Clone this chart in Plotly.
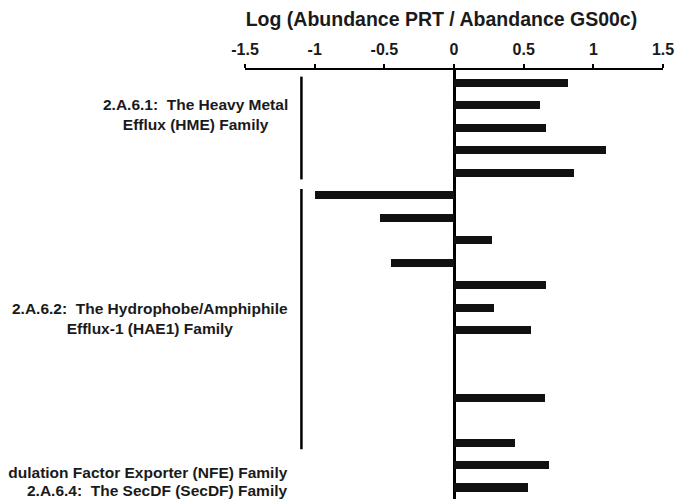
import plotly.graph_objects as go

# ---- data ----
rows = list(range(1, 20))
values = [0.82, 0.62, 0.66, 1.09, 0.86,
          -1.00, -0.53, 0.27, -0.45, 0.66, 0.29, 0.55, None, None, 0.65, None, 0.44,
          0.68, 0.53]

group_labels = [
    "2.A.6.1:  The Heavy Metal<br>Efflux (HME) Family",
    "2.A.6.2:  The Hydrophobe/Amphiphile<br>Efflux-1 (HAE1) Family",
    "2.A.6.3:  The Nodulation Factor Exporter (NFE) Family",
    "2.A.6.4:  The SecDF (SecDF) Family",
]
group_first = [1, 6, 18, 19]
group_last = [5, 17, 18, 19]
group_bracket = [True, True, False, False]
label_rows = [2.4, 11.5, 18.35, 19.15]

tick_vals = [-1.5, -1, -0.5, 0, 0.5, 1, 1.5]
tick_text = ["-1.5", "-1", "-0.5", "0", "0.5", "1", "1.5"]

x_title = "Log (Abundance PRT / Abandance GS00c)"

FONT = "Liberation Sans, Arial, sans-serif"

fig = go.Figure()
fig.add_trace(go.Bar(
    x=values, y=rows, orientation="h",
    marker=dict(color="#111111", line=dict(width=0)),
    width=0.36, showlegend=False,
))

# group brackets and labels
bracket_x = -1.095
label_x = -1.175
for lab, f, l, b, ly in zip(group_labels, group_first, group_last, group_bracket, label_rows):
    if b:
        fig.add_shape(type="line", xref="x", yref="y",
                      x0=bracket_x, x1=bracket_x, y0=f - 0.27, y1=l + 0.3,
                      line=dict(color="black", width=2.5))
    fig.add_annotation(x=label_x, y=ly, xref="x", yref="y", text=lab,
                       showarrow=False, xanchor="right", yanchor="middle",
                       align="center",
                       font=dict(family=FONT, size=15.5, color="#1a1a1a", weight="bold"))

# the page body adds an 8px offset; the figure is sized to fill the window exactly
fig.update_layout(
    width=679, height=492,
    margin=dict(l=237, r=24, t=62, b=1),
    paper_bgcolor="white", plot_bgcolor="white",
    bargap=0,
    title=dict(text=x_title, x=0.47, xref="paper", xanchor="center",
               y=0.978, yref="container", yanchor="middle",
               font=dict(family=FONT, size=19.5, color="#1a1a1a", weight="bold")),
    xaxis=dict(
        side="top", range=[-1.5, 1.5],
        tickvals=tick_vals, ticktext=tick_text,
        ticks="outside", ticklen=4, tickwidth=2, tickcolor="black",
        showline=True, linewidth=2, linecolor="black",
        showgrid=False,
        zeroline=True, zerolinecolor="black", zerolinewidth=2.5,
        ticklabelstandoff=3,
        tickfont=dict(family=FONT, size=16, color="#1a1a1a", weight="bold"),
    ),
    yaxis=dict(
        range=[19.51, 0.435], showticklabels=False, showgrid=False,
        zeroline=False, showline=False, ticks="",
    ),
)

fig.write_html("out.html")
